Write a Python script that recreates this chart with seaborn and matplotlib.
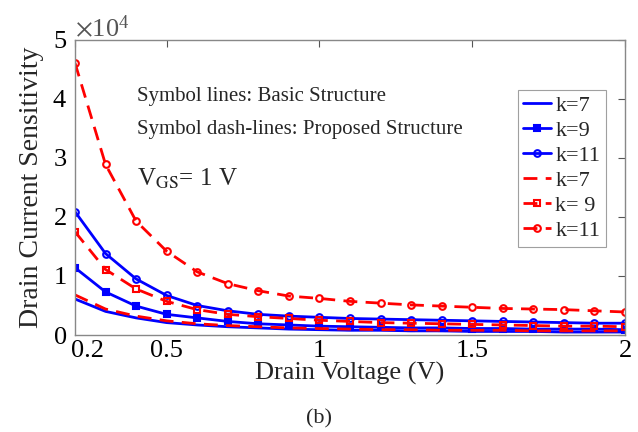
import matplotlib
matplotlib.use("Agg")
import matplotlib.pyplot as plt
import seaborn as sns
import pandas as pd
from matplotlib.ticker import ScalarFormatter
from matplotlib.transforms import ScaledTranslation

# Drain voltage (V)
vd = [0.2, 0.3, 0.4, 0.5, 0.6, 0.7, 0.8, 0.9, 1.0, 1.1,
      1.2, 1.3, 1.4, 1.5, 1.6, 1.7, 1.8, 1.9, 2.0]

# sensitivity, units of 1e4
basic_k7 = [0.61, 0.40, 0.29, 0.21, 0.17, 0.14, 0.12, 0.10, 0.09, 0.08,
            0.08, 0.07, 0.07, 0.06, 0.06, 0.06, 0.05, 0.05, 0.05]
basic_k9 = [1.14, 0.73, 0.49, 0.35, 0.29, 0.23, 0.19, 0.17, 0.15, 0.14,
            0.13, 0.12, 0.12, 0.11, 0.11, 0.10, 0.10, 0.10, 0.09]
basic_k11 = [2.09, 1.38, 0.95, 0.67, 0.50, 0.41, 0.35, 0.32, 0.30, 0.28,
             0.27, 0.26, 0.25, 0.24, 0.23, 0.22, 0.21, 0.20, 0.20]
prop_k7 = [0.68, 0.44, 0.32, 0.24, 0.19, 0.16, 0.14, 0.12, 0.11, 0.10,
           0.09, 0.09, 0.08, 0.08, 0.08, 0.07, 0.07, 0.07, 0.07]
prop_k9 = [1.75, 1.11, 0.78, 0.57, 0.43, 0.35, 0.31, 0.28, 0.25, 0.23,
           0.21, 0.20, 0.19, 0.18, 0.17, 0.16, 0.15, 0.15, 0.14]
prop_k11 = [4.61, 2.89, 1.93, 1.42, 1.07, 0.87, 0.75, 0.66, 0.62, 0.57,
            0.54, 0.51, 0.49, 0.47, 0.45, 0.44, 0.43, 0.41, 0.39]

sns.set_style("white")
plt.rcParams["font.family"] = ["Liberation Serif", "DejaVu Serif"]
plt.rcParams["mathtext.fontset"] = "stix"

fig = plt.figure(figsize=(6.38, 4.32), dpi=100)
ax = fig.add_axes([75 / 638, 1 - 335 / 432, 550 / 638, 295 / 432])

dash = (0, (5, 3))
series = [
    (basic_k7, "k=7", "blue", "-", None, "blue"),
    (basic_k9, "k=9", "blue", "-", "s", "blue"),
    (basic_k11, "k=11", "blue", "-", "o", "none"),
    (prop_k7, "k=7", "red", dash, None, "red"),
    (prop_k9, "k= 9", "red", dash, "s", "none"),
    (prop_k11, "k=11", "red", dash, "o", "none"),
]

for vals, lab, col, ls, mk, mfc in series:
    df = pd.DataFrame({"vd": vd, "s": [v * 1e4 for v in vals]})
    sns.lineplot(data=df, x="vd", y="s", ax=ax, color=col, linestyle=ls,
                 linewidth=2, marker=mk, markersize=4.8,
                 markerfacecolor=mfc, markeredgecolor=col,
                 markeredgewidth=1.5, label=lab)

ax.set_xlim(0.2, 2)
ax.set_ylim(0, 5e4)
ax.set_xticks([0.2, 0.5, 1, 1.5, 2])
ax.set_xticklabels(["0.2", "0.5", "1", "1.5", "2"])
ax.set_yticks([0, 1e4, 2e4, 3e4, 4e4, 5e4])
fmt = ScalarFormatter(useMathText=True)
fmt.set_powerlimits((0, 0))
ax.yaxis.set_major_formatter(fmt)
ax.yaxis.get_offset_text().set_fontsize(19)
ax.tick_params(direction="in", length=5, labelsize=19, colors="#555555",
               top=True, right=True, width=0.8)
ax.tick_params(axis="y", pad=6)
for lbl in ax.get_xticklabels() + ax.get_yticklabels():
    lbl.set_color("black")
# first x label sits to the right of the corner
first = ax.get_xticklabels()[0]
first.set_transform(first.get_transform() +
                    ScaledTranslation(13 / 100, 0, fig.dpi_scale_trans))
for sp in ax.spines.values():
    sp.set_color("#888888")
    sp.set_linewidth(1)

ax.set_xlabel("Drain Voltage (V)", fontsize=19, labelpad=0)
ax.set_ylabel("Drain Current Sensitivity", fontsize=20, labelpad=6)

ax.text(0.113, 0.81, "Symbol lines: Basic Structure", transform=ax.transAxes,
        fontsize=15, va="center")
ax.text(0.113, 0.695, "Symbol dash-lines: Proposed Structure",
        transform=ax.transAxes, fontsize=15, va="center")
ax.text(0.113, 0.53, r"V$_{\mathrm{GS}}$= 1 V", transform=ax.transAxes,
        fontsize=18, va="center")

leg = ax.legend(loc="upper right", bbox_to_anchor=(0.9655, 0.83), fontsize=16,
                handlelength=1.25, handletextpad=0.2, borderpad=0.25,
                labelspacing=0.2, frameon=True, fancybox=False,
                borderaxespad=0)
leg.get_frame().set_edgecolor("#888888")
leg.get_frame().set_linewidth(0.8)

fig.text(0.5, 0.02, "(b)", ha="center", fontsize=16)

fig.savefig("out.png", dpi=100)
